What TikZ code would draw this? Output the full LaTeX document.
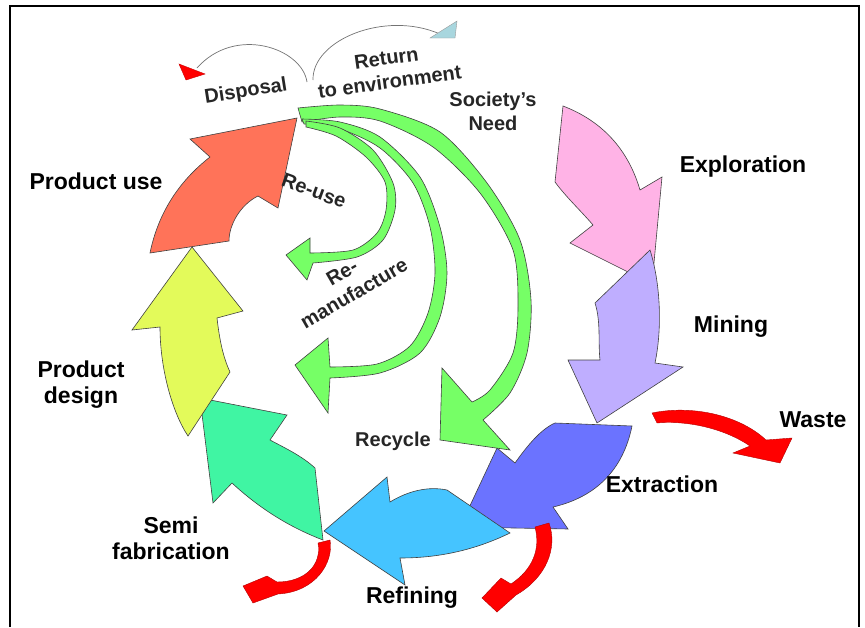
\documentclass[tikz,border=0pt]{standalone}
\usepackage{fontspec}
\setmainfont{Liberation Sans}
\definecolor{cpink}{HTML}{FFB3E6}
\definecolor{clav}{HTML}{BFAEFF}
\definecolor{cblue}{HTML}{6B73FF}
\definecolor{ccyan}{HTML}{45C4FF}
\definecolor{cteal}{HTML}{40F5A3}
\definecolor{cyel}{HTML}{E3FA5A}
\definecolor{csal}{HTML}{FF7359}
\definecolor{cgreen}{HTML}{76FF66}
\definecolor{cred}{HTML}{FF0000}
\definecolor{clblue}{HTML}{A8D6DE}
\definecolor{outl}{HTML}{404040}
\tikzset{
  cyc/.style={draw=outl, line width=0.6pt, line join=miter},
  grn/.style={fill=cgreen, draw=outl, line width=0.6pt},
  redarr/.style={fill=cred, draw=cred!70!black, line width=0.4pt},
  thinarc/.style={draw=black!55, line width=0.7pt},
  lab/.style={font=\fontsize{23}{26}\selectfont\bfseries, align=center, inner sep=0pt},
  sm/.style={font=\fontsize{20}{24}\selectfont\bfseries, text=black!85, align=center, inner sep=0pt},
  frame/.style={draw=black, line width=2pt}
}
\begin{document}
\begin{tikzpicture}[x=1pt,y=-1pt]
\useasboundingbox (0,0) rectangle (865,627);
% frame
\draw[frame] (10,627) -- (10,6) -- (859,6) -- (859,627);

% pink - Exploration
\filldraw[cyc, fill=cpink] (563,106) .. controls (602,121) and (628,149) .. (640,190) -- (662,177) -- (652,284) -- (570,243) -- (593,225) .. controls (582,212) and (566,197) .. (555,182) -- cycle;
% lavender - Mining
\filldraw[cyc, fill=clav] (650,250) -- (595,303) .. controls (601,322) and (598,342) .. (600,360) -- (568,360) -- (597,423) -- (683,367) -- (655,363) .. controls (662,330) and (661,285) .. (650,250) -- cycle;
% blue - Extraction
\filldraw[cyc, fill=cblue] (632,426) -- (555,423) .. controls (541,429) and (527,446) .. (515,463) -- (497,448) -- (460,527) -- (568,529) -- (553,507) .. controls (596,497) and (623,470) .. (632,426) -- cycle;
% cyan - Refining
\filldraw[cyc, fill=ccyan] (324,531) -- (387,477) -- (390,502) .. controls (408,491) and (428,486) .. (447,490) -- (510,533) .. controls (475,550) and (439,558) .. (400,558) -- (405,585) -- cycle;
% teal - Semi fabrication
\filldraw[cyc, fill=cteal] (200,398) -- (287,415) -- (270,440) .. controls (285,448) and (302,456) .. (315,468) -- (323,540) .. controls (289,527) and (259,508) .. (232,483) -- (213,503) -- cycle;
% yellow - Product design
\filldraw[cyc, fill=cyel] (192,247) -- (243,311) -- (217,318) .. controls (219,335) and (222,355) .. (230,372) -- (188,436) .. controls (172,412) and (160,368) .. (160,327) -- (132,330) -- cycle;
% salmon - Product use
\filldraw[cyc, fill=csal] (297,118) -- (190,139) -- (210,157) .. controls (178,182) and (158,214) .. (150,253) -- (229,241) .. controls (229,225) and (240,205) .. (258,196) -- (278,208) -- cycle;

% green - Recycle
\filldraw[grn] plot[smooth] coordinates {(298,108) (340,105) (380,109) (440,132) (487,183) (520,240) (531,300) (527,353) (510,393) (483,420)}
  -- (510,450) -- (440,440) -- (442,368) -- (472,402)
  -- plot[smooth] coordinates {(472,402) (490,390) (513,353) (518,306) (513,250) (480,193) (433,147) (380,121) (340,117) (302,122)} -- cycle;
% green - Re-manufacture
\filldraw[grn] plot[smooth] coordinates {(302,119) (340,122) (380,137) (420,177) (440,227) (447,273) (440,317) (420,353) (380,373) (330,378)}
  -- (328,413) -- (295,365) -- (328,338) -- (330,367)
  -- plot[smooth] coordinates {(330,367) (377,364) (410,346) (428,313) (435,273) (430,227) (413,183) (380,148) (340,129) (304,124)} -- cycle;
% green - Re-use
\filldraw[grn] plot[smooth] coordinates {(306,121) (340,128) (373,150) (393,183) (395,210) (383,240) (357,257) (313,263)}
  -- (307,280) -- (286,255) -- (310,238) -- (310,253)
  -- plot[smooth] coordinates {(310,253) (353,250) (377,233) (386,210) (385,182) (366,157) (336,136) (306,127)} -- cycle;

% red - Waste
\filldraw[redarr] (652,413) .. controls (690,405) and (738,414) .. (766,440) -- (792,438) -- (780,463) -- (733,453) -- (750,446) .. controls (727,430) and (690,420) .. (657,423) -- cycle;
% red - below Extraction
\filldraw[redarr] (535,527) -- (549,523) .. controls (558,548) and (546,578) .. (516,595) -- (497,612) -- (482,598) -- (501,578) -- (511,584) .. controls (532,570) and (541,550) .. (535,527) -- cycle;
% red - below Semi fabrication
\filldraw[redarr] (318,543) -- (330,540) .. controls (334,562) and (316,592) .. (278,594) -- (253,603) -- (243,586) -- (267,576) -- (277,582) .. controls (305,582) and (322,565) .. (318,543) -- cycle;

% thin arcs at the top
\coordinate (dispA) at (307,82);
\coordinate (dispB) at (197,68);
\draw[thinarc] (dispA) .. controls (302,48) and (235,25) .. (dispB);
\filldraw[fill=cred, draw=cred!80!black, line width=0.4pt] (179,64) -- (205,74) -- (186,80) -- cycle;
\coordinate (retA) at (313,80);
\coordinate (retB) at (440,34);
\draw[thinarc] (retA) .. controls (312,40) and (385,10) .. (retB);
\filldraw[fill=clblue, draw=black!40, line width=0.4pt] (430,38) -- (457,21) -- (455,38) -- cycle;

% labels
\node[lab] (expl) at (743,167) {Exploration};
\node[lab] (mine) at (731,327) {Mining};
\node[lab] (waste) at (813,420) {Waste};
\node[lab] (extr) at (662,484) {Extraction};
\node[lab] (refi) at (412,598) {Refining};
\node[lab] (semi) at (171,538) {Semi\\fabrication};
\node[lab] (pdes) at (81,385) {Product\\design};
\node[lab] (puse) at (96,181) {Product use};
\node[sm, rotate=9] (disp) at (246,92) {Disposal};
\node[sm, rotate=8] (ret) at (388,70) {Return\\to environment};
\node[sm] (soc) at (493,111) {Society's\\Need};
\node[sm, rotate=-20] (reuse) at (314,191) {Re-use};
\node[sm, rotate=30] (reman) at (348,283) {Re-\\manufacture};
\node[sm] (recy) at (393,441) {Recycle};
\end{tikzpicture}
\end{document}
